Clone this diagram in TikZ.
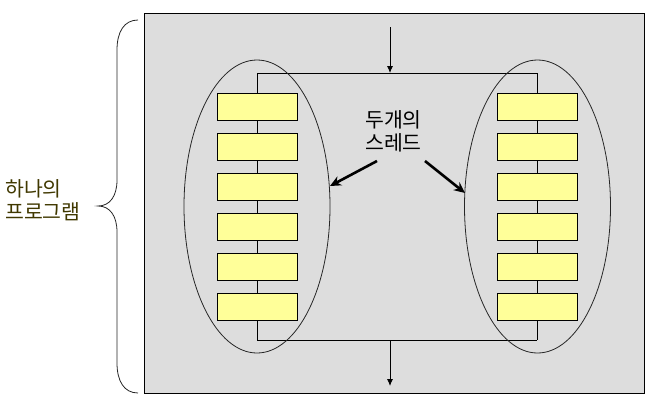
\documentclass[tikz,border=0pt]{standalone}
\usepackage{fontspec}
\newfontfamily\kr{Noto Sans CJK KR}
\usetikzlibrary{arrows.meta,shapes.geometric}
\definecolor{panel}{HTML}{DDDDDD}
\definecolor{stepfill}{HTML}{FFFF99}
\definecolor{labelcol}{RGB}{64,56,0}
\tikzset{
  stepbox/.style={draw=black, line width=0.9pt, fill=stepfill, minimum width=80pt, minimum height=27pt, inner sep=0pt, outer sep=0pt},
  flow/.style={draw=black, line width=0.9pt},
  oval/.style={draw=black!85, line width=0.8pt, ellipse, minimum width=146pt, minimum height=293pt, inner sep=0pt},
  thick arrow/.style={line width=2.6pt, -{Stealth[length=11pt,width=10pt]}},
  txt/.style={font=\kr\fontsize{20.5pt}{23pt}\selectfont, align=center, inner sep=0pt},
}
\begin{document}
\begin{tikzpicture}[x=1pt,y=-1pt]
\useasboundingbox (0,0) rectangle (660,413);
% panel
\node[draw=black, line width=0.9pt, fill=panel, minimum width=500pt, minimum height=380pt, inner sep=0pt, anchor=north west] (panel) at (144,13) {};
% flow coordinates
\coordinate (in) at (390,27);
\coordinate (tm) at (390,73);
\coordinate (tl) at (257,73);
\coordinate (tr) at (537,73);
\coordinate (bl) at (257,340);
\coordinate (br) at (537,340);
\coordinate (bm) at (390,340);
\coordinate (out) at (390,386);
% lines
\draw[flow] (tl) -- (tr);
\draw[flow] (bl) -- (br);
\draw[flow] (tl) -- (bl);
\draw[flow] (tr) -- (br);
\draw[flow, -{Latex[length=7pt,width=6pt]}] (in) -- (tm);
\draw[flow, -{Latex[length=7pt,width=6pt]}] (bm) -- (out);
% boxes
\foreach \i in {0,...,5}{
  \node[stepbox] (L\i) at (257,{106.5+40*\i}) {};
  \node[stepbox] (R\i) at (537,{106.5+40*\i}) {};
}
% ellipses
\node[oval] (eL) at (257,206.5) {};
\node[oval] (eR) at (537.5,206.5) {};
% thread label
\node[txt] (thr) at (393.5,131.5) {두개의\\스레드};
\coordinate (a1s) at (377,161);
\coordinate (a1e) at (330,186);
\coordinate (a2s) at (425,161);
\coordinate (a2e) at (465,193);
\draw[thick arrow] (a1s) -- (a1e);
\draw[thick arrow] (a2s) -- (a2e);
% brace
\coordinate (bt) at (138,20);
\coordinate (bb) at (138,393);
\coordinate (tip) at (98,206);
\draw[line width=0.8pt, black!85] (bt) .. controls (124,20) and (117,32) .. (117,50) -- (117,180) .. controls (117,196) and (110,206) .. (tip)
  .. controls (110,206) and (117,216) .. (117,232) -- (117,363) .. controls (117,381) and (124,393) .. (bb);
% program label
\node[txt, text=labelcol, align=left, anchor=west] (prog) at (5,200.5) {하나의\\프로그램};
\end{tikzpicture}
\end{document}
